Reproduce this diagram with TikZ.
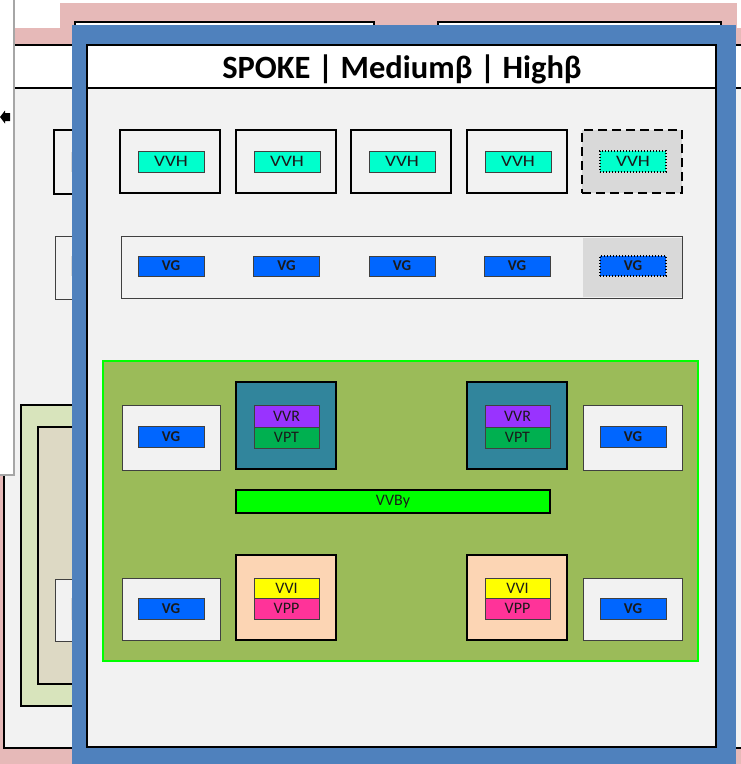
\documentclass[tikz,border=0pt]{standalone}
\usepackage{fontspec}
\setmainfont{Carlito}
\usetikzlibrary{shapes.geometric}
\definecolor{pinkbg}{HTML}{E6B9B8}
\definecolor{framebl}{HTML}{4F81BD}
\definecolor{panelgr}{HTML}{F2F2F2}
\definecolor{shadegr}{HTML}{D9D9D9}
\definecolor{edgegr}{HTML}{404040}
\definecolor{olivefill}{HTML}{9BBB59}
\definecolor{limeedge}{HTML}{00FF00}
\definecolor{tealfill}{HTML}{31859C}
\definecolor{peachfill}{HTML}{FCD5B4}
\definecolor{palegreen}{HTML}{D8E4BC}
\definecolor{tanfill}{HTML}{DDD9C4}
\definecolor{vvhcol}{HTML}{00FFCC}
\definecolor{vgcol}{HTML}{0066FF}
\definecolor{vvrcol}{HTML}{9933FF}
\definecolor{vptcol}{HTML}{00B050}
\definecolor{vvicol}{HTML}{FFFF00}
\definecolor{vppcol}{HTML}{FF3399}
\definecolor{txtdark}{HTML}{1A1A1A}
\definecolor{sidegr}{HTML}{A6A6A6}
\tikzset{
  heavybox/.style={draw=black, line width=2.5pt, fill=panelgr, inner sep=0pt, minimum width=100pt, minimum height=63pt},
  lightbox/.style={draw=edgegr, line width=1pt, fill=panelgr, inner sep=0pt},
  tag/.style={draw=edgegr, line width=1pt, inner sep=0pt, minimum width=66pt, minimum height=21pt, text=txtdark, font=\fontsize{16}{16}\selectfont},
  vvhtag/.style={tag, fill=vvhcol},
  vgtag/.style={tag, fill=vgcol, font=\fontsize{15}{15}\selectfont\bfseries},
  smalltag/.style={tag, minimum width=65pt},
  dotedge/.style={draw=black, line width=1.2pt, dash pattern=on 1.2pt off 1.8pt},
}
\newcommand{\vvhtext}{\scalebox{1.2}[1]{VVH}}
\begin{document}
\begin{tikzpicture}[x=1pt,y=-1pt]
\useasboundingbox (0,0) rectangle (741,764);
\fill[white] (0,0) rectangle (741,764);
% pink background layers
\fill[pinkbg] (0,28) rectangle (741,764);
\fill[pinkbg] (60,3) rectangle (737,28);
\draw[line width=2pt, fill=white] (75,22) rectangle (374,45);
\draw[line width=2pt, fill=white] (438,22) rectangle (721,45);
% back panel
\draw[line width=2pt, fill=panelgr] (4,45) rectangle (770,748);
\draw[line width=2pt, fill=white] (4,45) rectangle (770,88);
\draw[line width=2.5pt, fill=panelgr] (54,130) rectangle (110,194);
\fill[shadegr] (71,152) rectangle (110,172);
\draw[draw=edgegr, line width=1pt, fill=panelgr] (55,236) rectangle (110,299);
\fill[shadegr] (71,256) rectangle (110,276);
\draw[line width=1.5pt, fill=palegreen] (21,405) rectangle (120,706);
\draw[line width=1.5pt, fill=tanfill] (38,427) rectangle (120,684);
\draw[draw=edgegr, line width=1pt, fill=panelgr] (55,579) rectangle (110,641);
\fill[shadegr] (71,598) rectangle (110,620);
% left white panel
\fill[white] (-2,-2) rectangle (14,475);
\draw[sidegr, line width=1.2pt] (14,-2) -- (14,475) -- (-2,475);
\fill[black] (0,117) -- (5,110.5) -- (5,113) -- (10,113) -- (10,121) -- (5,121) -- (5,123.5) -- cycle;
% front blue frame
\fill[framebl] (72,25) rectangle (736,770);
\draw[line width=2pt, fill=panelgr] (87,45) rectangle (716,747);
\draw[line width=2pt, fill=white] (87,45) rectangle (716,88);
\node[font=\fontsize{32.5}{32.5}\selectfont\bfseries, text=black] (title) at (402,69) {SPOKE | Mediumβ | Highβ};
% VVH row
\foreach \i/\x in {1/170,2/286,3/401,4/517} {
  \node[heavybox] (h\i) at (\x,161.5) {};
  \node[vvhtag] (vvh\i) at (\x+1,161.5) {\vvhtext};
}
\node[heavybox, fill=shadegr, dash pattern=on 9pt off 5pt] (h5) at (632,161.5) {};
\node[vvhtag, dotedge] (vvh5) at (633,161.5) {\vvhtext};
% VG row
\node[lightbox, minimum width=561pt, minimum height=62pt] (vgrow) at (401.5,267) {};
\fill[shadegr] (583,237.5) rectangle (681.5,296.5);
\foreach \i/\x in {1/171,2/286.5,3/402,4/517} {
  \node[vgtag, minimum height=20pt] (vg\i) at (\x,266) {VG};
}
\node[vgtag, minimum height=20pt, dotedge] (vg5) at (633,266) {VG};
% green panel
\node[draw=limeedge, line width=2pt, fill=olivefill, minimum width=595pt, minimum height=300pt, inner sep=0pt] (core) at (400.5,511) {};
% VG boxes in core
\node[lightbox, minimum width=98pt, minimum height=65pt] (gl1) at (171,437.5) {};
\node[vgtag] (gvl1) at (171,437) {VG};
\node[lightbox, minimum width=99pt, minimum height=65pt] (gr1) at (632.5,437.5) {};
\node[vgtag] (gvr1) at (633,437) {VG};
\node[lightbox, minimum width=98pt, minimum height=62pt] (gl2) at (171,609) {};
\node[vgtag] (gvl2) at (171,608.5) {VG};
\node[lightbox, minimum width=99pt, minimum height=62pt] (gr2) at (632.5,609) {};
\node[vgtag] (gvr2) at (633,608.5) {VG};
% teal and peach boxes
\foreach \s/\x in {l/286,r/517} {
  \node[heavybox, fill=tealfill, minimum height=87pt] (t\s) at (\x,425.5) {};
  \node[smalltag, fill=vvrcol, minimum height=22pt] (vvr\s) at (\x+0.5,416) {VVR};
  \node[smalltag, fill=vptcol] (vpt\s) at (\x+0.5,437.5) {VPT};
  \node[heavybox, fill=peachfill, minimum height=85pt] (p\s) at (\x,597.5) {};
  \node[smalltag, fill=vvicol, minimum height=20pt] (vvi\s) at (\x+0.5,588) {VVI};
  \node[smalltag, fill=vppcol] (vpp\s) at (\x+0.5,608.5) {VPP};
}
% bypass bar
\node[draw=black, line width=2pt, fill=limeedge, minimum width=314pt, minimum height=23pt, inner sep=0pt, text=txtdark, font=\fontsize{16}{16}\selectfont] (vvby) at (393,501.5) {VVBy};
\end{tikzpicture}
\end{document}
